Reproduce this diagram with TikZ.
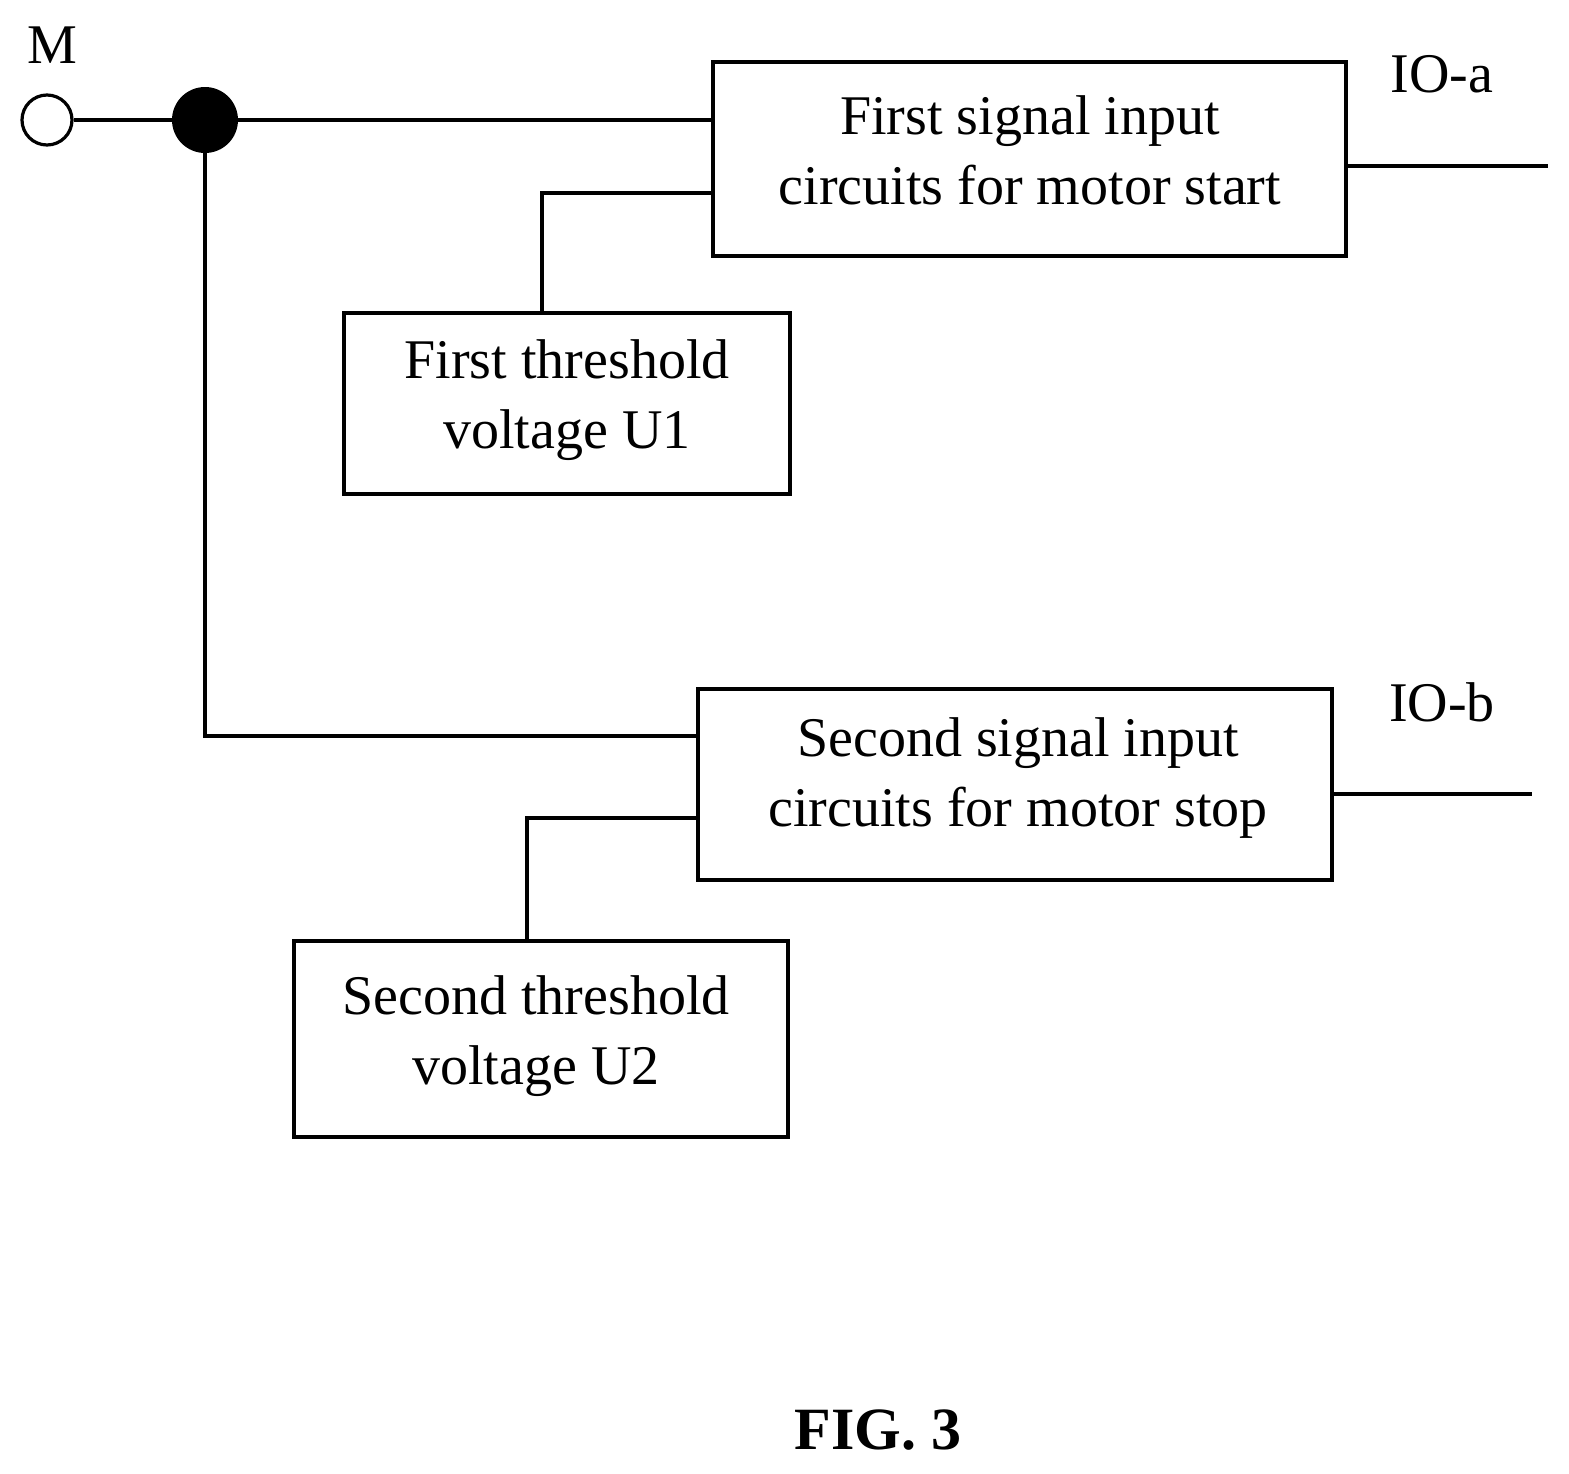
\documentclass[tikz,border=0pt]{standalone}
\usepackage{fontspec}
\setmainfont{Liberation Serif}
\begin{document}
\begin{tikzpicture}[x=0.5pt,y=-0.5pt,
  ln/.style={line width=1.6pt},
  bx/.style={draw,line width=1.6pt},
  txt/.style={font=\fontsize{28}{35}\selectfont,align=center}]
\useasboundingbox (0,0) rectangle (1569,1473);
\node[draw,circle,line width=1.6pt,minimum size=25pt,inner sep=0pt] (m) at (47,120) {};
\node[txt] at (52,45) {M};
\node[fill,circle,minimum size=33pt,inner sep=0pt] (dot) at (205,120) {};
\draw[bx] (713,62) rectangle (1346,256);
\node[txt] (b1) at (1030,150) {First signal input\\circuits for motor start};
\draw[bx] (344,313) rectangle (790,494);
\node[txt] (u1) at (567,400) {First threshold\\voltage U1};
\draw[bx] (698,689) rectangle (1332,880);
\node[txt] (b2) at (1018,778) {Second signal input\\circuits for motor stop};
\draw[bx] (294,941) rectangle (788,1137);
\node[txt] (u2) at (536,1036) {Second threshold\\voltage U2};
\node[txt] at (1442,74) {IO-a};
\node[txt] at (1442,702) {IO-b};
\coordinate (oa) at (1548,166);
\coordinate (ob) at (1532,794);
\draw[ln] (m) -- (dot);
\draw[ln] (dot) -- (713,120);
\draw[ln] (1346,166) -- (oa);
\draw[ln] (713,193) -- (542,193) -- (542,313);
\draw[ln] (dot) -- (205,736) -- (698,736);
\draw[ln] (1332,794) -- (ob);
\draw[ln] (698,818) -- (527,818) -- (527,941);
\node[font=\fontsize{30}{36}\selectfont\bfseries] at (878,1430) {FIG. 3};
\end{tikzpicture}
\end{document}
